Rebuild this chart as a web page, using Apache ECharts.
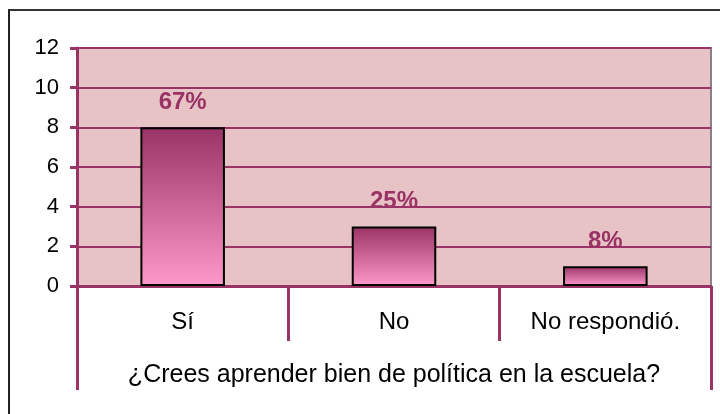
<!DOCTYPE html>
<html>
<head>
<meta charset="utf-8">
<script src="https://cdn.jsdelivr.net/npm/echarts@6/dist/echarts.min.js"></script>
<style>
  html, body { margin: 0; padding: 0; background: #ffffff; }
  #chart { width: 720px; height: 414px; }
  #frame {
    position: absolute; left: 8px; top: 9px; width: 720px; height: 420px;
    border-left: 2px solid #222; border-top: 2px solid #333; pointer-events: none;
  }
</style>
</head>
<body>
<div id="chart"></div>
<div id="frame"></div>
<script>
// datos
var categorias = ["Sí", "No", "No respondió."];
var valores = [8, 3, 1];
var porcentajes = ["67%", "25%", "8%"];
var pregunta = "¿Crees aprender bien de política en la escuela?";

var morado = "#993366";
var fuente = "Arial, Liberation Sans";

var myChart = echarts.init(document.getElementById("chart"));
var option = {
  backgroundColor: "transparent",
  animation: false,
  grid: {
    left: 77,
    right: 9,
    top: 48,
    bottom: 128,
    show: true,
    backgroundColor: "#e8c3c6",
    borderColor: "#8c8088",
    borderWidth: 2
  },
  xAxis: [
    {
      type: "category",
      data: categorias,
      position: "bottom",
      axisLine: { lineStyle: { color: morado, width: 3 } },
      axisTick: { show: true, length: 55, lineStyle: { color: morado, width: 3 } },
      axisLabel: { color: "#000", fontSize: 24, fontFamily: fuente, margin: 24 },
      name: pregunta,
      nameLocation: "middle",
      nameGap: 77,
      nameTextStyle: { color: "#000", fontSize: 25, fontFamily: fuente }
    },
    {
      // bordes exteriores de la tabla de categorías
      type: "category",
      data: [""],
      position: "bottom",
      axisLine: { show: false },
      axisTick: { show: true, length: 104, lineStyle: { color: morado, width: 3 } },
      axisLabel: { show: false }
    }
  ],
  yAxis: {
    type: "value",
    min: 0,
    max: 12,
    interval: 2,
    axisLine: { show: true, lineStyle: { color: morado, width: 3 } },
    axisTick: { show: true, length: 7, lineStyle: { color: morado, width: 3 } },
    axisLabel: { color: "#000", fontSize: 22, fontFamily: fuente, margin: 18 },
    splitLine: { lineStyle: { color: morado, width: 2 } }
  },
  series: [
    {
      type: "bar",
      xAxisIndex: 0,
      data: valores,
      barWidth: "40%",
      itemStyle: {
        color: new echarts.graphic.LinearGradient(0, 0, 0, 1, [
          { offset: 0, color: "#993366" },
          { offset: 1, color: "#ff99cc" }
        ]),
        borderColor: "#000",
        borderWidth: 2
      },
      label: {
        show: true,
        position: "top",
        distance: 13,
        color: morado,
        fontSize: 24,
        fontWeight: "bold",
        fontFamily: fuente,
        formatter: function (p) { return porcentajes[p.dataIndex]; }
      }
    }
  ]
};
myChart.setOption(option);
</script>
</body>
</html>
